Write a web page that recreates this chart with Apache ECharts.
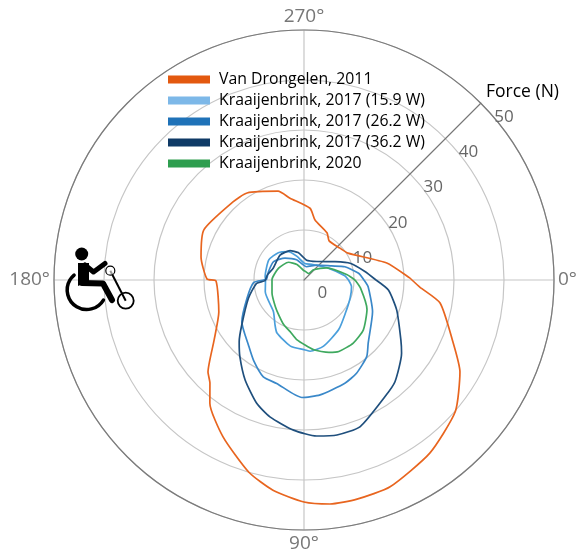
<!DOCTYPE html>
<html lang="en">
<head>
<meta charset="UTF-8">
<title>Force polar plot</title>
<script src="https://cdn.jsdelivr.net/npm/echarts@6/dist/echarts.min.js"></script>
<style>
    html, body { margin: 0; height: 100%; background: #fff; }
    #container { width: 578px; height: 558px; }
</style>
</head>
<body>
<div id="container"></div>
<script>
    // angle in degrees (clockwise from the right), force in N
    var drongelenAngles = [0, 3.5, 9.6, 22, 30.5, 41, 54, 67.4, 76.4, 83.4, 90, 98.4, 106, 117.3, 127.4, 132.4, 136.2, 146.3, 159.4, 179.3, 180.6, 192.6, 206.6, 227.7, 236.8, 253.7, 260.3, 274.8, 280.4, 296, 302.7, 318.4, 328.5, 348.4, 359, 360];
    var drongelenForces = [21.6, 23.2, 27.6, 32, 36.2, 40.1, 42.8, 44.8, 45.1, 45.1, 44.4, 42.5, 40, 35.3, 31, 27.9, 26.6, 21.6, 18.2, 17.6, 19.4, 21.1, 22.4, 21.1, 20.8, 18.5, 16.6, 14.4, 12.2, 10.5, 9.3, 9.6, 10.3, 16.9, 21.2, 21.6];

    var low2017Angles = [0, 8, 21, 38.6, 55, 73.5, 85, 89, 101.6, 117, 122.8, 134, 163, 180.5, 185, 209.7, 226.8, 241, 253, 273, 295.6, 334, 354, 360];
    var low2017Forces = [8.9, 9.6, 9.9, 10.6, 12.1, 13.8, 14.3, 14, 13.5, 11.9, 10.7, 8.8, 8.1, 7.7, 7.8, 8.1, 7.5, 6.5, 5, 3.3, 3.5, 5.4, 8.2, 8.9];

    var mid2017Angles = [0, 6, 24.8, 44.5, 50.7, 60.6, 68.4, 82, 91, 104.8, 112.8, 122, 130, 146, 162, 177, 180, 181, 193, 211, 229, 250, 281, 310, 333, 342, 353, 360];
    var mid2017Forces = [12, 12.9, 15.1, 18, 19.8, 21.4, 22.2, 23.2, 23.5, 21.4, 21, 19, 17.2, 15, 12, 10.1, 8.1, 7.5, 7.3, 7.1, 5.8, 4.3, 2.7, 3.9, 6.2, 8.6, 11, 12];

    var high2017Angles = [0, 6.8, 18, 31.8, 36.9, 48.2, 55.2, 69, 78, 85.4, 94, 104, 111, 120.5, 129.9, 136.4, 144, 161.8, 176, 179, 188, 201, 226, 244.5, 258, 277.6, 304.6, 329.4, 340, 352, 360];
    var high2017Forces = [14.4, 17, 19.5, 22.8, 24.4, 27.3, 28.4, 31.4, 31.7, 31.3, 30.1, 28.2, 26.4, 23.2, 20, 17.9, 15.4, 11.7, 9.5, 7.8, 7.4, 6.6, 6.9, 6.5, 5.6, 4, 4.5, 7.2, 9.8, 12.3, 14.4];

    var green2020Angles = [0, 8, 25, 40, 52, 64, 71, 82, 97, 105, 114.5, 125, 137.4, 158, 180.6, 205, 229, 245.5, 268, 279, 306, 313, 332, 353, 360];
    var green2020Forces = [10.2, 11.4, 13.9, 15.5, 16, 15.9, 15.3, 14.1, 12, 10.7, 9.8, 8.7, 7.8, 6.9, 6.4, 5.6, 4.7, 3.4, 1.9, 1.75, 1.6, 2.8, 5.2, 8.7, 10.2];

    var seriesNames = ['Van Drongelen, 2011', 'Kraaijenbrink, 2017 (15.9 W)', 'Kraaijenbrink, 2017 (26.2 W)', 'Kraaijenbrink, 2017 (36.2 W)', 'Kraaijenbrink, 2020'];
    var lineColors = ['#e8651f', '#4a9fdc', '#3a88c9', '#1f4f7d', '#3fa95f'];
    var legendColors = ['#e3590f', '#7db8e8', '#1f72b8', '#0f3a66', '#2e9e4f'];

    var chartFont = 'Open Sans';
    var myChart = echarts.init(document.getElementById('container'));

    function makeLine(name, color, angles, forces) {
        var points = [];
        for (var i = 0; i < angles.length; i++) {
            points.push([forces[i], angles[i]]);
        }
        return {
            name: name,
            type: 'line',
            coordinateSystem: 'polar',
            polarIndex: 0,
            symbol: 'none',
            smooth: 0.2,
            lineStyle: { color: color, width: 1.7 },
            itemStyle: { color: color },
            z: 5,
            data: points
        };
    }

    var legendData = seriesNames.map(function (n, i) {
        return { name: n, icon: 'rect', itemStyle: { color: legendColors[i] } };
    });

    var option = {
        animation: false,
        title: {
            text: 'Force (N)',
            left: 486,
            top: 83,
            padding: 0,
            textStyle: { fontFamily: chartFont, fontSize: 17.5, fontWeight: 'normal', color: '#000' }
        },
        legend: {
            orient: 'vertical',
            left: 168,
            top: 69,
            padding: 0,
            itemWidth: 42,
            itemHeight: 8,
            itemGap: 0,
            selectedMode: false,
            textStyle: { fontFamily: chartFont, fontSize: 15.8, color: '#000', padding: [0, 0, 0, 4], lineHeight: 21 },
            data: legendData
        },
        polar: [
            { center: [304, 280], radius: [0, 250] },
            { center: [304, 280], radius: [0, 250] }
        ],
        angleAxis: [
            {
                polarIndex: 0,
                type: 'value',
                startAngle: 0,
                clockwise: true,
                min: 0,
                max: 360,
                interval: 90,
                axisLine: { lineStyle: { color: '#7a7a7a', width: 1.2 } },
                axisTick: { show: false },
                axisLabel: {
                    formatter: '{value}°',
                    color: '#777',
                    fontFamily: chartFont,
                    fontSize: 19,
                    margin: 4
                },
                splitLine: { lineStyle: { color: '#c6c6c6', width: 1.2 } }
            },
            // second polar only turns the force axis to the upper right
            { polarIndex: 1, type: 'value', startAngle: 45, min: 0, max: 360, show: false }
        ],
        radiusAxis: [
            {
                polarIndex: 0,
                type: 'value',
                min: 0,
                max: 50,
                interval: 10,
                axisLine: { show: false },
                axisTick: { show: false },
                axisLabel: { show: false },
                splitLine: { lineStyle: { color: '#c6c6c6', width: 1.2 } }
            },
            {
                polarIndex: 1,
                type: 'value',
                min: 0,
                max: 50,
                interval: 10,
                axisLine: { lineStyle: { color: '#777', width: 1.2 } },
                axisTick: { show: false },
                splitLine: { show: false },
                axisLabel: {
                    margin: -19,
                    align: 'left',
                    verticalAlign: 'middle',
                    color: '#666',
                    fontFamily: chartFont,
                    fontSize: 17
                }
            }
        ],
        series: [
            makeLine(seriesNames[0], lineColors[0], drongelenAngles, drongelenForces),
            makeLine(seriesNames[1], lineColors[1], low2017Angles, low2017Forces),
            makeLine(seriesNames[2], lineColors[2], mid2017Angles, mid2017Forces),
            makeLine(seriesNames[3], lineColors[3], high2017Angles, high2017Forces),
            makeLine(seriesNames[4], lineColors[4], green2020Angles, green2020Forces)
        ],
        // handcycle icon
        graphic: [
            { type: 'circle', z: 10, shape: { cx: 81.7, cy: 254, r: 6.5 }, style: { fill: '#000' } },
            { type: 'polygon', z: 10, shape: { points: [[78, 263], [89, 263], [89, 281], [78, 286]] }, style: { fill: '#000' } },
            { type: 'polyline', z: 10, shape: { points: [[82, 283], [103, 283.5], [112, 300]] }, style: { stroke: '#000', fill: null, lineWidth: 6, lineCap: 'round', lineJoin: 'round' } },
            { type: 'polyline', z: 10, shape: { points: [[85, 265], [93.5, 272], [105, 263.5]] }, style: { stroke: '#000', fill: null, lineWidth: 5, lineCap: 'round', lineJoin: 'round' } },
            { type: 'arc', z: 10, shape: { cx: 86.7, cy: 290, r: 19.5, startAngle: 0.54, endAngle: 4.01, clockwise: true }, style: { stroke: '#000', fill: null, lineWidth: 3.5, lineCap: 'round' } },
            { type: 'line', z: 10, shape: { x1: 110.3, y1: 270.7, x2: 125.7, y2: 300.7 }, style: { stroke: '#000', lineWidth: 2 } },
            { type: 'circle', z: 10, shape: { cx: 110.3, cy: 270.7, r: 4.5 }, style: { stroke: '#000', fill: '#fff', fillOpacity: 0.6, lineWidth: 1.2 } },
            { type: 'circle', z: 10, shape: { cx: 125.7, cy: 300.7, r: 8 }, style: { stroke: '#000', fill: null, lineWidth: 1.8 } }
        ]
    };

    myChart.setOption(option);
</script>
</body>
</html>
